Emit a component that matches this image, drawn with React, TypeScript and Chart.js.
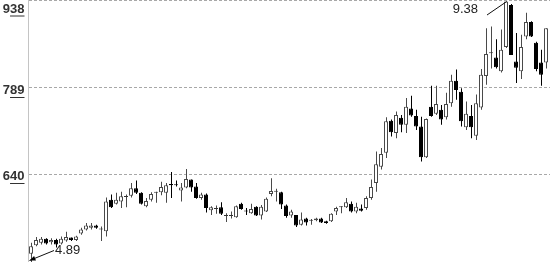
import React, { useEffect, useRef } from "react";
import { Chart, registerables } from "chart.js";

Chart.register(...registerables);

// OHLC price series (yuan), one entry per trading day
const opens = [
  5.03, 5.18, 5.22, 5.29, 5.23, 5.27, 5.21, 5.26, 5.31, 5.27,
  5.38, 5.45, 5.48, 5.52, 5.45, 5.42, 5.96, 5.89, 5.93, 6.01,
  6.03, 6.16, 6.08, 5.85, 5.96, 6.08, 6.09, 6.08, 6.23, 6.22,
  6.12, 6.17, 6.31, 6.19, 5.99, 6.05, 5.78, 5.80, 5.83, 5.68,
  5.68, 5.66, 5.89, 5.77, 5.73, 5.84, 5.69, 5.76, 6.06, 6.10,
  6.09, 5.86, 5.69, 5.70, 5.53, 5.64, 5.60, 5.61, 5.64, 5.59,
  5.59, 5.76, 5.83, 5.83, 5.89, 5.76, 5.81, 5.82, 5.99, 6.25,
  6.53, 6.77, 7.32, 7.11, 7.37, 7.25, 7.53, 7.40, 7.22, 6.69,
  7.56, 7.44, 7.51, 7.38, 7.62, 8.01, 7.82, 7.21, 7.40, 7.06,
  7.55, 8.09, 8.48, 8.41, 8.17, 8.59, 9.31, 8.34, 8.17, 8.77,
  9.02, 8.66, 8.32, 8.32,
];
const highs = [
  5.22, 5.32, 5.32, 5.30, 5.30, 5.29, 5.33, 5.41, 5.31, 5.34,
  5.48, 5.56, 5.56, 5.53, 5.50, 6.00, 6.05, 6.08, 6.10, 6.05,
  6.25, 6.29, 6.09, 5.99, 6.09, 6.10, 6.27, 6.25, 6.44, 6.29,
  6.25, 6.49, 6.31, 6.25, 6.08, 6.07, 5.85, 5.86, 5.92, 5.73,
  5.76, 5.86, 5.91, 5.82, 5.89, 5.85, 5.87, 6.00, 6.33, 6.15,
  6.10, 5.88, 5.79, 5.70, 5.74, 5.65, 5.63, 5.65, 5.65, 5.60,
  5.73, 5.84, 5.85, 5.99, 5.93, 5.91, 5.88, 6.02, 6.31, 6.79,
  6.85, 7.38, 7.34, 7.48, 7.42, 7.71, 7.75, 7.51, 7.39, 7.36,
  7.92, 7.92, 7.59, 7.80, 8.11, 8.20, 7.88, 7.65, 7.59, 7.77,
  8.21, 8.91, 8.94, 8.72, 8.89, 9.38, 9.33, 8.83, 8.80, 9.18,
  9.03, 8.68, 8.54, 8.91,
];
const lows = [
  4.89, 5.16, 5.19, 5.19, 5.19, 5.14, 5.19, 5.24, 5.25, 5.25,
  5.36, 5.43, 5.45, 5.46, 5.25, 5.33, 5.82, 5.88, 5.82, 5.83,
  6.00, 6.06, 5.88, 5.83, 5.93, 5.91, 6.04, 5.91, 5.99, 6.19,
  5.93, 6.16, 6.10, 5.98, 5.96, 5.74, 5.70, 5.72, 5.70, 5.58,
  5.64, 5.65, 5.79, 5.70, 5.72, 5.68, 5.62, 5.75, 6.02, 5.93,
  5.80, 5.65, 5.65, 5.49, 5.52, 5.52, 5.53, 5.59, 5.56, 5.55,
  5.58, 5.70, 5.73, 5.82, 5.74, 5.73, 5.76, 5.79, 5.96, 6.10,
  6.48, 6.68, 7.05, 7.02, 7.12, 7.11, 7.39, 7.16, 6.62, 6.68,
  7.39, 7.42, 7.25, 7.34, 7.56, 7.68, 7.22, 7.16, 7.02, 6.99,
  7.51, 7.94, 8.22, 8.22, 8.15, 8.57, 8.45, 7.97, 8.04, 8.72,
  8.76, 8.17, 7.92, 8.22,
];
const closes = [
  5.16, 5.27, 5.29, 5.21, 5.27, 5.19, 5.29, 5.32, 5.27, 5.33,
  5.45, 5.52, 5.52, 5.48, 5.45, 5.93, 5.83, 5.96, 6.02, 6.01,
  6.16, 6.08, 5.89, 5.94, 6.06, 6.08, 6.18, 6.21, 6.21, 6.21,
  6.17, 6.32, 6.17, 5.99, 6.05, 5.82, 5.83, 5.80, 5.72, 5.68,
  5.68, 5.85, 5.80, 5.76, 5.80, 5.69, 5.84, 5.98, 6.11, 6.10,
  5.88, 5.68, 5.76, 5.52, 5.62, 5.57, 5.60, 5.64, 5.57, 5.56,
  5.72, 5.82, 5.83, 5.92, 5.76, 5.84, 5.77, 5.99, 6.18, 6.57,
  6.75, 7.31, 7.12, 7.42, 7.25, 7.56, 7.41, 7.22, 6.69, 7.35,
  7.40, 7.61, 7.34, 7.61, 8.01, 7.85, 7.31, 7.44, 7.21, 7.62,
  8.11, 8.47, 8.48, 8.24, 8.54, 9.37, 8.45, 8.23, 8.59, 9.02,
  8.77, 8.21, 8.11, 8.91,
];
const categories = opens.map((_, i) => `D${i + 1}`);

// Y axis grid levels and their labels
const tickValues = [9.38, 7.89, 6.4];
const tickLabels = ["938", "789", "640"];

const UP = "#4a4a4a";
const DOWN = "#000000";

const overlayPlugin = {
  id: "overlay",
  beforeDatasetDraw(chart: any, args: any) {
    if (args.index === 1) {
      chart.ctx.save();
      chart.ctx.translate(0.5, 0);
    }
  },
  afterDatasetDraw(chart: any, args: any) {
    if (args.index === 1) chart.ctx.restore();
  },
  beforeDatasetsDraw(chart: any) {
    const { ctx } = chart;
    const ys = chart.scales.y;
    ctx.save();
    ctx.lineWidth = 1;
    ctx.strokeStyle = "#a8a8a8";
    ctx.setLineDash([3, 2]);
    tickValues.forEach((v) => {
      const py = Math.max(0.5, Math.round(ys.getPixelForValue(v) - 0.6) + 0.5);
      ctx.beginPath();
      ctx.moveTo(29, py);
      ctx.lineTo(550, py);
      ctx.stroke();
    });
    ctx.setLineDash([]);
    ctx.strokeStyle = "#c4c4c4";
    ctx.beginPath();
    ctx.moveTo(28.5, 0);
    ctx.lineTo(28.5, 262);
    ctx.stroke();
    ctx.restore();
  },
  afterDatasetsDraw(chart: any) {
    const { ctx } = chart;
    const xs = chart.scales.x;
    const ys = chart.scales.y;
    ctx.save();
    // y labels with underlined last two digits
    ctx.font = "bold 13px 'Liberation Sans', Arial, sans-serif";
    ctx.fillStyle = "#333";
    ctx.strokeStyle = "#333";
    ctx.textAlign = "right";
    ctx.textBaseline = "alphabetic";
    tickValues.forEach((v, i) => {
      const py = ys.getPixelForValue(v);
      const base = Math.max(12.5, Math.round(py + 6));
      const label = tickLabels[i];
      const rx = 24.5;
      ctx.fillText(label, rx, base);
      const w2 = ctx.measureText(label.slice(-2)).width;
      ctx.beginPath();
      ctx.lineWidth = 1;
      ctx.moveTo(rx - w2, base + 3.5);
      ctx.lineTo(rx, base + 3.5);
      ctx.stroke();
    });

    // max / min annotations
    let maxI = 0;
    let minI = 0;
    highs.forEach((h, i) => { if (h > highs[maxI]) maxI = i; });
    lows.forEach((l, i) => { if (l < lows[minI]) minI = i; });
    ctx.font = "13px 'Liberation Sans Narrow', 'Liberation Sans', Arial, sans-serif";
    ctx.fillStyle = "#222";
    ctx.strokeStyle = "#111";
    ctx.lineWidth = 1;

    const mx = xs.getPixelForValue(maxI);
    const my = ys.getPixelForValue(highs[maxI]);
    ctx.beginPath();
    ctx.moveTo(mx - 19, my + 14);
    ctx.lineTo(mx, my + 1);
    ctx.stroke();
    ctx.textAlign = "right";
    ctx.fillText(highs[maxI].toFixed(2), mx - 28, my + 12);

    const nx = xs.getPixelForValue(minI);
    const ny = ys.getPixelForValue(lows[minI]);
    const tipX = nx - 1.5;
    const tipY = ny - 1.5;
    const endX = nx + 23;
    const endY = ny - 11.5;
    ctx.beginPath();
    ctx.moveTo(tipX, tipY);
    ctx.lineTo(endX, endY);
    ctx.stroke();
    const dx = endX - tipX;
    const dy = endY - tipY;
    const len = Math.hypot(dx, dy);
    const ux = dx / len;
    const uy = dy / len;
    const bx = tipX + ux * 6;
    const by = tipY + uy * 6;
    ctx.fillStyle = "#000";
    ctx.beginPath();
    ctx.moveTo(tipX, tipY);
    ctx.lineTo(bx - uy * 2.5, by + ux * 2.5);
    ctx.lineTo(bx + uy * 2.5, by - ux * 2.5);
    ctx.closePath();
    ctx.fill();
    ctx.fillStyle = "#222";
    ctx.textAlign = "left";
    ctx.fillText(lows[minI].toFixed(2), nx + 24, ny - 8.5);
    ctx.restore();
  },
};

export default function App() {
  const ref = useRef<HTMLCanvasElement | null>(null);

  useEffect(() => {
    const canvas = ref.current;
    if (!canvas) return;
    const isUp = (i: number) => closes[i] > opens[i];
    const isDown = (i: number) => closes[i] < opens[i];
    const chart = new Chart(canvas, {
      type: "bar",
      data: {
        labels: categories,
        datasets: [
          {
            label: "body",
            data: opens.map((o, i) => [o, closes[i]]) as any,
            backgroundColor: opens.map((_, i) => (isUp(i) ? "#ffffff" : isDown(i) ? DOWN : "#333333")),
            borderColor: opens.map((_, i) => (isUp(i) ? UP : isDown(i) ? DOWN : "#333333")),
            borderWidth: 1,
            borderSkipped: false,
            barThickness: 4,
            minBarLength: 1,
            grouped: false,
            inflateAmount: 0,
          } as any,
          {
            label: "wick",
            data: lows.map((l, i) => [l, highs[i]]) as any,
            backgroundColor: opens.map((_, i) => (isDown(i) ? DOWN : UP)),
            borderWidth: 0,
            barThickness: 1,
            grouped: false,
            inflateAmount: 0,
          } as any,
        ],
      },
      options: {
        responsive: false,
        animation: false,
        devicePixelRatio: 1,
        layout: { padding: { left: 28.5, right: 1.5, top: 1, bottom: 0 } },
        plugins: { legend: { display: false }, tooltip: { enabled: false } },
        scales: {
          x: { display: false, offset: true },
          y: { display: false, min: 4.89, max: 9.38 },
        },
      },
      plugins: [overlayPlugin],
    });
    return () => chart.destroy();
  }, []);

  return (
    <div style={{ position: "fixed", left: 0, top: 0, width: 550, height: 262, background: "#fff" }}>
      <canvas ref={ref} width={550} height={262} style={{ display: "block" }} />
    </div>
  );
}
